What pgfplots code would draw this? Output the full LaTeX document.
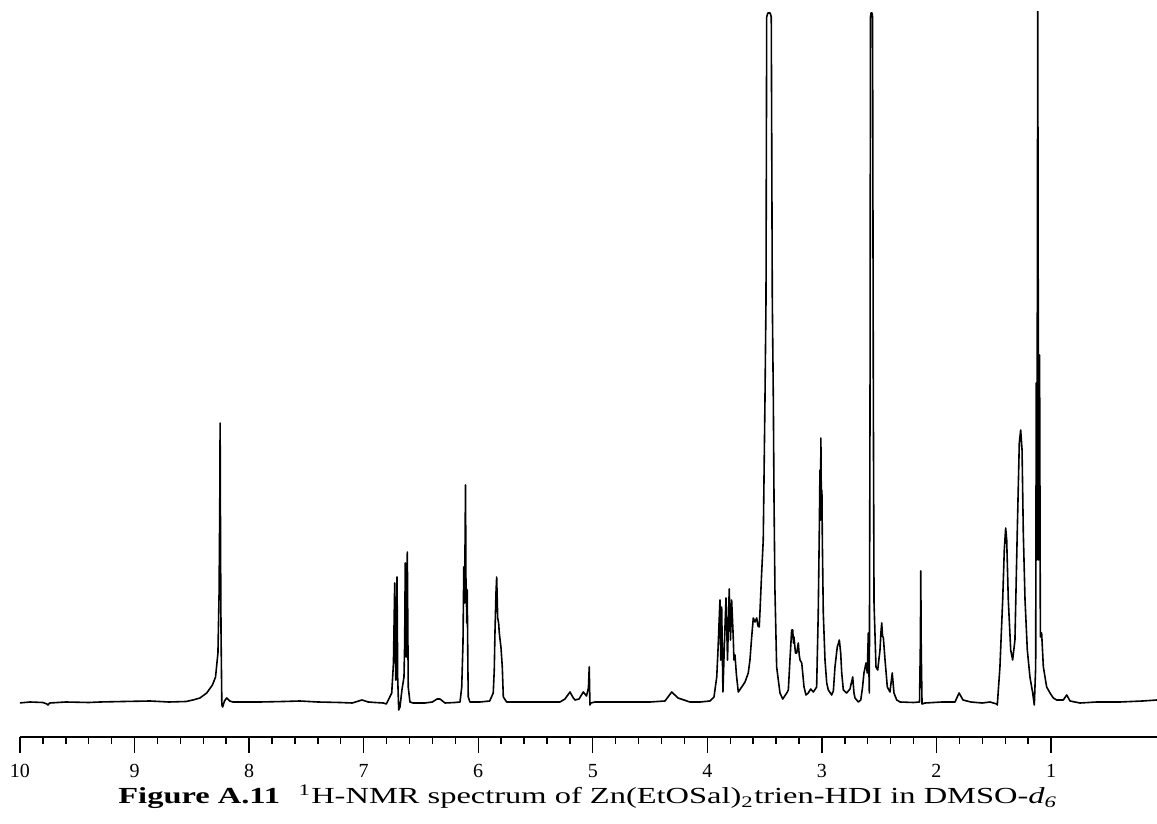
\documentclass[border=0pt]{standalone}
\usepackage{fontspec}
\setmainfont{Liberation Serif}
\usepackage{graphicx}
\usepackage{pgfplots}
\pgfplotsset{compat=1.18}
\usepackage{pgfplotstable}
\pgfplotstableread{
ppm I
10.009 0
9.913 1
9.80 0.5
9.765 -1
9.756 -2
9.740 0
9.60 1
9.40 0.5
9.302 1
9.10 1.5
8.865 2
8.70 1
8.55 1.5
8.490 3
8.429 5
8.370 10
8.320 18
8.293 26
8.272 50
8.262 110
8.256 200
8.253 280
8.249 150
8.245 70
8.238 -2
8.231 -4
8.215 2
8.196 5
8.170 2
8.141 1
7.905 1
7.70 1.5
7.556 2
7.40 1
7.207 0.5
7.10 0
7.015 3
6.96 1
6.90 0.5
6.829 0
6.802 -1
6.785 3
6.755 10
6.740 40
6.729 120
6.724 60
6.720 23
6.715 60
6.709 126
6.703 25
6.694 -7
6.683 -4
6.666 13
6.648 26
6.642 60
6.637 140
6.632 80
6.628 46
6.624 90
6.619 151
6.611 16
6.596 1
6.569 0
6.465 0
6.40 1
6.360 4
6.334 4
6.290 0
6.203 0.5
6.159 1
6.144 16
6.133 60
6.126 136
6.122 110
6.119 100
6.111 218
6.107 120
6.104 113
6.100 80
6.096 113
6.090 33
6.087 6
6.072 1
5.985 1
5.90 2
5.869 10
5.860 33
5.854 70
5.845 110
5.839 126
5.830 85
5.822 80
5.816 70
5.801 55
5.790 36
5.781 6
5.752 1
5.635 1
5.461 1
5.286 1
5.243 4
5.199 11
5.170 5
5.155 3
5.120 4
5.083 11
5.055 7
5.038 15
5.031 36
5.025 -2
5.016 0
4.981 1
4.763 1
4.501 1
4.370 2
4.311 11
4.256 5
4.152 1
4.064 1
3.977 2
3.942 6
3.918 26
3.907 53
3.890 103
3.883 43
3.875 96
3.864 11
3.850 63
3.837 105
3.824 43
3.809 114
3.798 63
3.788 103
3.774 66
3.768 43
3.759 48
3.746 28
3.730 11
3.700 16
3.671 21
3.643 30
3.628 43
3.613 66
3.599 85
3.584 81
3.569 85
3.558 77
3.547 76
3.540 93
3.526 130
3.512 163
3.497 303
3.488 403
3.482 686
3.472 690
3.452 690
3.442 686
3.433 403
3.424 303
3.418 203
3.410 113
3.395 36
3.366 10
3.342 4
3.307 10
3.293 13
3.279 43
3.264 73
3.255 73
3.248 60
3.244 66
3.231 50
3.220 50
3.213 55
3.206 60
3.198 48
3.191 43
3.176 40
3.156 16
3.139 8
3.119 10
3.098 14
3.075 11
3.046 16
3.032 90
3.023 170
3.017 233
3.012 183
3.009 265
3.005 203
3.000 213
2.996 160
2.988 90
2.973 43
2.958 20
2.944 13
2.915 8
2.900 12
2.886 36
2.866 56
2.855 60
2.848 63
2.836 50
2.827 30
2.813 13
2.784 10
2.755 14
2.731 26
2.720 10
2.711 5
2.682 1
2.661 3
2.646 15
2.633 30
2.615 40
2.604 30
2.595 70
2.590 35
2.586 10
2.580 300
2.576 686
2.571 690
2.562 690
2.558 686
2.551 300
2.545 100
2.537 70
2.528 36
2.513 33
2.493 53
2.485 70
2.478 80
2.470 66
2.464 66
2.449 43
2.429 16
2.406 11
2.386 30
2.371 10
2.347 3
2.318 1
2.20 0.5
2.148 1
2.140 63
2.137 132
2.133 53
2.126 -1
2.10 0
1.95 1
1.838 1
1.803 10
1.768 3
1.70 1
1.60 0
1.533 1
1.474 -1
1.469 -2
1.446 36
1.422 103
1.408 153
1.396 175
1.387 163
1.373 103
1.352 53
1.335 43
1.315 63
1.295 170
1.277 260
1.265 273
1.253 253
1.242 170
1.227 103
1.207 53
1.184 26
1.160 10
1.146 -2
1.134 36
1.129 320
1.123 143
1.116 700
1.108 143
1.100 348
1.093 66
1.082 70
1.067 36
1.038 16
1.009 10
0.980 5
0.951 3
0.893 3
0.863 8
0.834 2
0.747 0
0.60 1
0.40 1
0.20 2
0.075 3
}\spectrum
\begin{document}
\begin{tikzpicture}
\useasboundingbox (-10pt,-43.5pt) rectangle (568.5pt,368.5pt);
\begin{axis}[
  name=ax,
  anchor=south west, at={(0pt,0pt)},
  scale only axis,
  width=568.5pt, height=362.5pt,
  xmin=0.075, xmax=10, ymin=-34, ymax=691,
  x dir=reverse,
  axis x line=bottom, axis y line=none,
  x axis line style={-, line width=0.75pt},
  xtick={1,2,3,4,5,6,7,8,9,10},
  minor x tick num=4,
  tick align=outside,
  major tick length=8pt, minor tick length=3.5pt,
  every tick/.style={black, line width=0.7pt},
  /pgf/number format/assume math mode=true,
  ticklabel style={font=\fontsize{10}{12}\selectfont, yshift=-2pt},
  clip=true,
]
\addplot[black, line width=0.8pt, line join=round] table[x=ppm, y=I] {\spectrum};
\end{axis}
\node[anchor=base west, inner sep=0pt] at (49pt,-33.5pt) {\resizebox{469.5pt}{\height}{\fontsize{11.5}{13}\selectfont\textbf{Figure A.11}\hspace{6.5pt}\textsuperscript{1}H-NMR spectrum of Zn(EtOSal)\textsubscript{2}trien-HDI in DMSO-\textit{d\textsubscript{6}}}};
\end{tikzpicture}
\end{document}
